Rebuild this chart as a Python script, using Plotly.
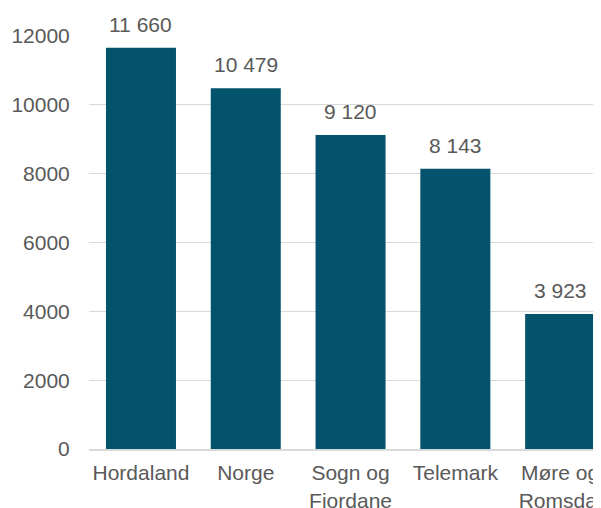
import plotly.graph_objects as go

categories = ["Hordaland", "Norge", "Sogn og<br>Fjordane", "Telemark", "Møre og<br>Romsdal"]
values = [11660, 10479, 9120, 8143, 3923]
value_labels = ["11 660", "10 479", "9 120", "8 143", "3 923"]
y_ticks = [0, 2000, 4000, 6000, 8000, 10000, 12000]

bar_color = "#02536B"
text_color = "#595959"
grid_color = "#D9D9D9"
font_family = "Liberation Sans, Arial, sans-serif"

fig = go.Figure()
fig.add_trace(go.Bar(
    x=list(range(len(categories))),
    y=values,
    marker=dict(color=bar_color, line=dict(width=0)),
    hoverinfo="skip",
))

for i, (v, lab) in enumerate(zip(values, value_labels)):
    fig.add_annotation(
        x=i, y=v, text=lab, showarrow=False,
        xanchor="center", yanchor="bottom", yshift=10,
        font=dict(family=font_family, size=21, color=text_color),
    )

# The page adds an 8px body margin, so the figure is sized to fit the 601x508 window.
fig.update_layout(
    width=593, height=500,
    margin=dict(l=81, r=0, t=28, b=59, pad=0, autoexpand=False),
    paper_bgcolor="white", plot_bgcolor="white",
    showlegend=False,
    bargap=0.332,
    font=dict(family=font_family, size=21, color=text_color),
    xaxis=dict(
        range=[-0.496, 4.39],
        tickmode="array",
        tickvals=list(range(len(categories))),
        ticktext=categories,
        showgrid=False,
        showline=True, linecolor=grid_color, linewidth=2,
        ticks="outside", ticklen=4, tickcolor="rgba(0,0,0,0)",
        tickfont=dict(family=font_family, size=21, color=text_color),
        ticklabeloverflow="allow",
        automargin=False,
        fixedrange=True,
    ),
    yaxis=dict(
        range=[0, 12000],
        tickmode="array",
        tickvals=y_ticks,
        ticktext=[str(t) for t in y_ticks],
        showgrid=True, gridcolor=grid_color, gridwidth=1,
        zeroline=False,
        showline=False,
        ticks="outside", ticklen=14, tickcolor="rgba(0,0,0,0)",
        tickfont=dict(family=font_family, size=21, color=text_color),
        automargin=False,
        fixedrange=True,
    ),
)

fig.write_html("out.html")
